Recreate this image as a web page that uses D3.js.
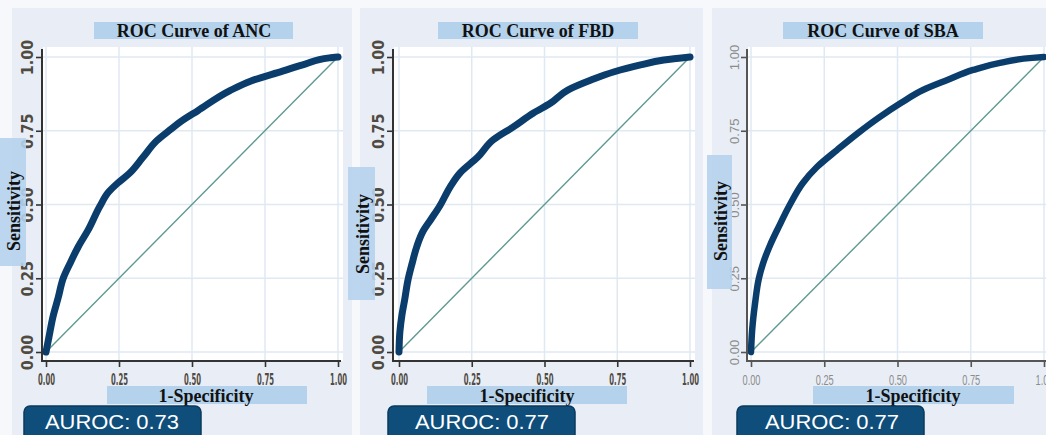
<!DOCTYPE html>
<html>
<head>
<meta charset="utf-8">
<script src="https://cdn.jsdelivr.net/npm/d3@7"></script>
<style>
  html, body { margin: 0; padding: 0; background: #f6f8fb; }
  svg { display: block; }
</style>
</head>
<body>
<svg id="chart" width="1046" height="435"></svg>
<script>
// ---------- DATA ----------
const panelNames = ["ANC", "FBD", "SBA"];
const aurocValues = ["0.73", "0.77", "0.77"];
const tickValues = [0, 0.25, 0.5, 0.75, 1];
const tickLabels = ["0.00", "0.25", "0.50", "0.75", "1.00"];

const fprANC = [0, 0.01, 0.024, 0.042, 0.059, 0.082, 0.11, 0.144, 0.185, 0.215, 0.245, 0.285, 0.332, 0.38, 0.425, 0.46, 0.52, 0.63, 0.70, 0.81, 0.89, 0.97, 1];
const tprANC = [0, 0.05, 0.12, 0.185, 0.25, 0.30, 0.356, 0.413, 0.495, 0.543, 0.572, 0.605, 0.66, 0.717, 0.753, 0.78, 0.818, 0.886, 0.918, 0.952, 0.977, 0.997, 1];

const fprFBD = [0, 0.003, 0.01, 0.02, 0.03, 0.045, 0.062, 0.083, 0.11, 0.14, 0.176, 0.21, 0.27, 0.325, 0.393, 0.462, 0.52, 0.58, 0.66, 0.74, 0.83, 0.91, 1];
const tprFBD = [0, 0.068, 0.125, 0.18, 0.24, 0.3, 0.36, 0.41, 0.45, 0.495, 0.56, 0.607, 0.66, 0.72, 0.763, 0.81, 0.843, 0.888, 0.922, 0.95, 0.973, 0.99, 1];

const fprSBA = [0, 0.004, 0.014, 0.027, 0.041, 0.065, 0.095, 0.133, 0.177, 0.225, 0.294, 0.365, 0.44, 0.51, 0.587, 0.67, 0.758, 0.85, 0.96, 1];
const tprSBA = [0, 0.075, 0.166, 0.25, 0.30, 0.362, 0.425, 0.5, 0.573, 0.627, 0.685, 0.742, 0.797, 0.843, 0.888, 0.922, 0.956, 0.98, 0.997, 1];

const fprs = [fprANC, fprFBD, fprSBA];
const tprs = [tprANC, tprFBD, tprSBA];

// ---------- LAYOUT ----------
const layouts = [
  { bg: [12, 352], plot: [43, 343], axisX: 42, xr: [46, 338], bottom: [42, 341],
    title: [94, 293], titleCx: 194, ylab: [0, 26, 138, 266], ylabCy: 211, ylabBase: 20,
    xlab: [107, 307], xlabCx: 206, auroc: [24, 201], aurocCx: 112, style: "bold", yTickOff: -9 },
  { bg: [360, 703], plot: [394, 695], axisX: 393, xr: [399, 690], bottom: [393, 694],
    title: [438, 638], titleCx: 538, ylab: [348, 375, 167, 300], ylabCy: 234, ylabBase: 369,
    xlab: [427, 627], xlabCx: 527, auroc: [388, 575], aurocCx: 482, style: "bold", yTickOff: -9 },
  { bg: [712, 1050], plot: [748, 1050], axisX: 747, xr: [751, 1044], bottom: [747, 1050],
    title: [783, 983], titleCx: 883, ylab: [707, 732, 155, 289], ylabCy: 221, ylabBase: 727,
    xlab: [813, 1014], xlabCx: 913, auroc: [737, 924], aurocCx: 832, style: "light", yTickOff: -8 }
];

const svg = d3.select("#chart");
const serif = "'Liberation Serif', 'Times New Roman', 'DejaVu Serif', serif";
const sans = "'Liberation Sans', Arial, 'DejaVu Sans', sans-serif";
const narrow = "'Liberation Sans Narrow', 'DejaVu Sans Condensed', 'Liberation Sans', sans-serif";

const yTop = 57, yBot = 352, axisY = 361;

layouts.forEach((L, i) => {
  const g = svg.append("g");
  // panel background
  g.append("rect").attr("x", L.bg[0]).attr("y", 8)
    .attr("width", L.bg[1] - L.bg[0]).attr("height", 435)
    .attr("fill", "#e9eef6");
  // plot region
  g.append("rect").attr("x", L.plot[0]).attr("y", 47)
    .attr("width", L.plot[1] - L.plot[0]).attr("height", axisY - 47)
    .attr("fill", "#ffffff");

  const x = d3.scaleLinear().domain([0, 1]).range(L.xr);
  const y = d3.scaleLinear().domain([0, 1]).range([yBot, yTop]);

  // gridlines
  g.append("g").selectAll("line").data(tickValues).join("line")
    .attr("x1", d => x(d)).attr("x2", d => x(d))
    .attr("y1", 47).attr("y2", axisY)
    .attr("stroke", "#e0e9f2").attr("stroke-width", 1.5);
  g.append("g").selectAll("line").data(tickValues).join("line")
    .attr("x1", L.plot[0]).attr("x2", L.plot[1])
    .attr("y1", d => y(d)).attr("y2", d => y(d))
    .attr("stroke", "#e0e9f2").attr("stroke-width", 1.5);

  // diagonal reference
  g.append("line")
    .attr("x1", x(0)).attr("y1", y(0)).attr("x2", x(1)).attr("y2", y(1))
    .attr("stroke", "#5f9991").attr("stroke-width", 1.4);

  // ROC curve
  const pts = fprs[i].map((f, k) => [f, tprs[i][k]]);
  const line = d3.line().x(d => x(d[0])).y(d => y(d[1])).curve(d3.curveMonotoneY);
  g.append("path").datum(pts).attr("d", line)
    .attr("fill", "none").attr("stroke", "#0b3d6c")
    .attr("stroke-width", L.style === "bold" ? 7 : 6.5)
    .attr("stroke-linecap", "round").attr("stroke-linejoin", "round");

  const tickColor = L.style === "bold" ? "#4f4a42" : "#8c8c8c";
  const axisColor = L.style === "bold" ? "#333333" : "#555555";

  // left axis
  const ya = g.append("g").attr("transform", `translate(${L.axisX},0)`)
    .call(d3.axisLeft(y).tickValues(tickValues).tickFormat((d, k) => tickLabels[k]).tickSize(6).tickSizeOuter(0));
  ya.select(".domain").remove();
  ya.selectAll(".tick line").attr("stroke", axisColor).attr("stroke-width", 1.6);
  ya.selectAll(".tick text")
    .attr("x", 0).attr("y", 0).attr("dy", 0)
    .attr("transform", `translate(${L.yTickOff},0) rotate(-90)`)
    .attr("text-anchor", "middle")
    .attr("fill", tickColor)
    .style("font-family", L.style === "bold" ? narrow : sans)
    .style("font-weight", L.style === "bold" ? "bold" : "normal")
    .style("font-size", L.style === "bold" ? "16px" : "13px");
  g.append("line").attr("x1", L.axisX).attr("x2", L.axisX).attr("y1", 49).attr("y2", axisY + 1)
    .attr("stroke", axisColor).attr("stroke-width", 2);

  // bottom axis
  const xa = g.append("g").attr("transform", `translate(0,${axisY})`)
    .call(d3.axisBottom(x).tickValues(tickValues).tickFormat((d, k) => tickLabels[k]).tickSize(6).tickSizeOuter(0));
  xa.select(".domain").remove();
  xa.selectAll(".tick line").attr("stroke", axisColor).attr("stroke-width", 1.6);
  xa.selectAll(".tick text")
    .attr("y", 24).attr("dy", 0)
    .attr("fill", tickColor)
    .attr("textLength", L.style === "bold" ? 17 : 18)
    .attr("lengthAdjust", "spacingAndGlyphs")
    .style("font-family", L.style === "bold" ? narrow : sans)
    .style("font-weight", L.style === "bold" ? "bold" : "normal")
    .style("font-size", L.style === "bold" ? "16px" : "15px");
  g.append("line").attr("x1", L.bottom[0]).attr("x2", L.bottom[1]).attr("y1", axisY).attr("y2", axisY)
    .attr("stroke", axisColor).attr("stroke-width", 2);

  // title
  g.append("rect").attr("x", L.title[0]).attr("y", 22)
    .attr("width", L.title[1] - L.title[0]).attr("height", 17).attr("fill", "#b5d2ec");
  g.append("text").attr("x", L.titleCx).attr("y", 37).attr("text-anchor", "middle")
    .style("font-family", serif).style("font-weight", "bold").style("font-size", "18px")
    .attr("fill", "#111").text("ROC Curve of " + panelNames[i]);

  // y label
  g.append("rect").attr("x", L.ylab[0]).attr("y", L.ylab[2])
    .attr("width", L.ylab[1] - L.ylab[0]).attr("height", L.ylab[3] - L.ylab[2])
    .attr("fill", "#b5d2ec").attr("fill-opacity", 0.9);
  g.append("text").attr("transform", `translate(${L.ylabBase},${L.ylabCy}) rotate(-90)`)
    .attr("text-anchor", "middle")
    .style("font-family", serif).style("font-weight", "bold").style("font-size", "18px")
    .attr("fill", "#111").text("Sensitivity");

  // x label
  g.append("rect").attr("x", L.xlab[0]).attr("y", 386)
    .attr("width", L.xlab[1] - L.xlab[0]).attr("height", 18).attr("fill", "#b5d2ec");
  g.append("text").attr("x", L.xlabCx).attr("y", 402).attr("text-anchor", "middle")
    .style("font-family", serif).style("font-weight", "bold").style("font-size", "18px")
    .attr("fill", "#111").text("1-Specificity");

  // AUROC badge
  g.append("rect").attr("x", L.auroc[0]).attr("y", 406)
    .attr("width", L.auroc[1] - L.auroc[0]).attr("height", 40)
    .attr("rx", 6).attr("ry", 6)
    .attr("fill", "#0f4e7b").attr("stroke", "#0a3a5c").attr("stroke-width", 1.5);
  g.append("text").attr("x", L.aurocCx).attr("y", 429).attr("text-anchor", "middle")
    .attr("textLength", 134).attr("lengthAdjust", "spacingAndGlyphs")
    .style("font-family", sans).style("font-size", "21px")
    .attr("fill", "#ffffff").text("AUROC: " + aurocValues[i]);
});
</script>
</body>
</html>
